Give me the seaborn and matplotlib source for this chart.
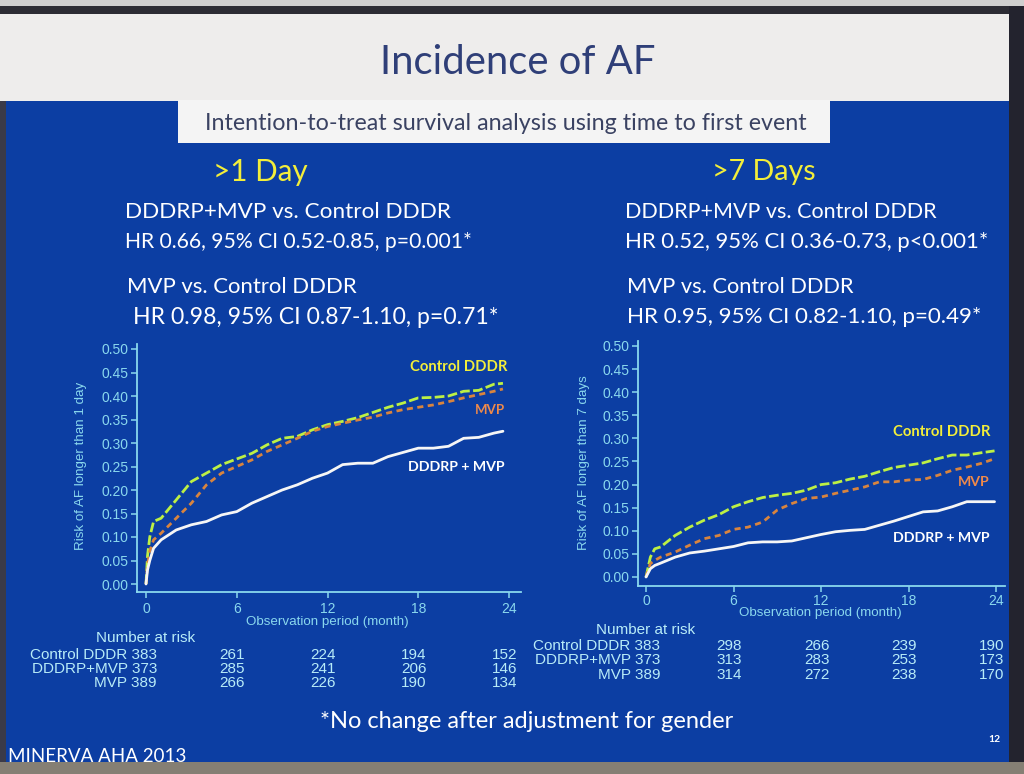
import numpy as np
import pandas as pd
import matplotlib
matplotlib.use("Agg")
import matplotlib.pyplot as plt
import matplotlib.transforms as mtransforms
from matplotlib.patches import Rectangle
import seaborn as sns

# ---------------- data ----------------
groups = ["Control DDDR", "MVP", "DDDRP + MVP"]

t_1d = [0, 0.1, 0.25, 0.5, 1] + list(range(2, 24)) + [23.6]
ctrl_1d = [0, 0.06, 0.10, 0.133, 0.14,
           0.179, 0.218, 0.236, 0.254, 0.266, 0.278, 0.296, 0.31, 0.314, 0.328, 0.339,
           0.346, 0.354, 0.365, 0.376, 0.385, 0.396, 0.397, 0.40, 0.41, 0.412, 0.425, 0.427]
mvp_1d = [0, 0.04, 0.07, 0.094, 0.108,
          0.14, 0.172, 0.211, 0.236, 0.25, 0.264, 0.282, 0.296, 0.31, 0.325, 0.335,
          0.342, 0.349, 0.355, 0.364, 0.371, 0.376, 0.381, 0.388, 0.396, 0.403, 0.41, 0.415]
dddrp_1d = [0, 0.03, 0.05, 0.076, 0.094,
            0.115, 0.126, 0.133, 0.147, 0.154, 0.172, 0.186, 0.20, 0.211, 0.225, 0.236,
            0.254, 0.257, 0.257, 0.271, 0.28, 0.289, 0.289, 0.293, 0.31, 0.312, 0.321, 0.325]

t_7d = [0, 0.3, 0.6, 1] + list(range(2, 24)) + [23.9]
ctrl_7d = [0, 0.043, 0.061, 0.065,
           0.09, 0.108, 0.123, 0.135, 0.152, 0.163, 0.172, 0.177, 0.181, 0.188, 0.20,
           0.204, 0.212, 0.218, 0.228, 0.237, 0.242, 0.247, 0.256, 0.264, 0.264, 0.269, 0.273]
mvp_7d = [0, 0.029, 0.036, 0.043,
          0.054, 0.069, 0.083, 0.09, 0.103, 0.108, 0.119, 0.145, 0.159, 0.17, 0.173,
          0.181, 0.188, 0.195, 0.206, 0.206, 0.21, 0.211, 0.22, 0.231, 0.238, 0.246, 0.256]
dddrp_7d = [0, 0.018, 0.025, 0.03,
            0.043, 0.052, 0.056, 0.061, 0.066, 0.074, 0.076, 0.076, 0.078, 0.085, 0.092,
            0.098, 0.101, 0.103, 0.112, 0.121, 0.131, 0.141, 0.143, 0.152, 0.163, 0.163, 0.163]

risk_months = [6, 12, 18, 24]
risk_labels = ["Control DDDR 383", "DDDRP+MVP 373", "MVP 389"]
risk_1d = [[261, 224, 194, 152], [285, 241, 206, 146], [266, 226, 190, 134]]
risk_7d = [[298, 266, 239, 190], [313, 283, 253, 173], [314, 272, 238, 170]]

xticks = [0, 6, 12, 18, 24]
yticks = [0.00, 0.05, 0.10, 0.15, 0.20, 0.25, 0.30, 0.35, 0.40, 0.45, 0.50]

# ---------------- style ----------------
W, H = 1024, 774
BLUE = "#0c3ea3"
CYAN = "#8ad8ee"
TABLE = "#b8ecf8"
YELLOW = "#f3ee3a"
palette = {"Control DDDR": "#bdf044", "MVP": "#d9843e", "DDDRP + MVP": "#f6f6f6"}
dashes = {"Control DDDR": (3.5, 1.2), "MVP": (2.2, 1.6), "DDDRP + MVP": ""}

sns.set_theme(style="ticks")
plt.rcParams["font.family"] = ["Liberation Sans", "DejaVu Sans"]

fig = plt.figure(figsize=(W / 100, H / 100), dpi=100)
fig.patch.set_facecolor(BLUE)
renderer = fig.canvas.get_renderer()


def rect(x0, y0, x1, y1, color, z=0):
    fig.add_artist(Rectangle((x0 / W, 1 - y1 / H), (x1 - x0) / W, (y1 - y0) / H,
                             transform=fig.transFigure, facecolor=color,
                             edgecolor="none", zorder=z))


def ftext(x0, x1, y, s, color, family="Lato", weight="normal"):
    t = fig.text(x0 / W, 1 - y / H, s, ha="left", va="center", color=color,
                 family=family, weight=weight, fontsize=12)
    w = t.get_window_extent(renderer).width
    t.set_fontsize(12 * (x1 - x0) / w)
    return t


# slide frame
rect(0, 0, W, 6, "#cfcfcf")
rect(0, 6, W, 14, "#2c2c34")
rect(0, 14, 1009, 101, "#eeedec")
rect(1009, 6, W, H, "#23232e")
rect(0, 101, 6, H, "#3a3a48")
rect(178, 100, 830, 143, "#f4f4f4")
rect(0, 762, W, H, "#857f74")

ftext(380, 655, 63, "Incidence of AF", "#2f3f78")
ftext(205, 802, 124, "Intention-to-treat survival analysis using time to first event", "#3a4262")

ftext(213, 307, 172, ">1 Day", YELLOW)
ftext(712, 815, 172, ">7 Days", YELLOW)

ftext(125, 448, 212, "DDDRP+MVP vs. Control DDDR", "white")
ftext(125, 471, 242, "HR 0.66, 95% CI 0.52-0.85, p=0.001*", "white")
ftext(127, 356, 287, "MVP vs. Control DDDR", "white")
ftext(133, 497, 317, "HR 0.98, 95% CI 0.87-1.10, p=0.71*", "white")

ftext(625, 935, 212, "DDDRP+MVP vs. Control DDDR", "white")
ftext(625, 988, 242, "HR 0.52, 95% CI 0.36-0.73, p<0.001*", "white")
ftext(627, 853, 287, "MVP vs. Control DDDR", "white")
ftext(627, 980, 317, "HR 0.95, 95% CI 0.82-1.10, p=0.49*", "white")

ftext(320, 733, 721, "*No change after adjustment for gender", "white")
ftext(8, 185, 757, "MINERVA AHA 2013", "white")
ftext(988, 1000, 740, "12", "white", weight="bold")


def make_long(t, c, m, d):
    return pd.concat([
        pd.DataFrame({"month": t, "risk": c, "group": groups[0]}),
        pd.DataFrame({"month": t, "risk": m, "group": groups[1]}),
        pd.DataFrame({"month": t, "risk": d, "group": groups[2]}),
    ], ignore_index=True)


def panel(px, py, xlim, ylim, df, ylabel, ylab_xy, xlab_xy, xpad, labels, table):
    x0, x1 = px
    y0, y1 = py  # pixel bottom, top
    ax = fig.add_axes([x0 / W, 1 - y0 / H, (x1 - x0) / W, (y0 - y1) / H])
    ax.set_facecolor("none")
    ax.patch.set_alpha(0)
    sns.lineplot(data=df, x="month", y="risk", hue="group", style="group",
                 palette=palette, dashes=dashes, hue_order=groups, style_order=groups,
                 estimator=None, sort=False, linewidth=2.0, legend=False, ax=ax)
    ax.set_xlim(*xlim)
    ax.set_ylim(*ylim)
    ax.set_xticks(xticks)
    ax.set_yticks(yticks)
    ax.set_yticklabels([f"{v:.2f}" for v in yticks])
    for s in ["top", "right"]:
        ax.spines[s].set_visible(False)
    for s in ["left", "bottom"]:
        ax.spines[s].set_color(CYAN)
        ax.spines[s].set_linewidth(1.3)
    ax.tick_params(colors=CYAN, labelcolor=CYAN, labelsize=10, length=4, width=1.1)
    ax.tick_params(axis="x", pad=xpad)
    ax.tick_params(axis="y", pad=2)
    ax.set_ylabel(ylabel, color=CYAN, fontsize=9.6)
    ax.yaxis.set_label_coords(ylab_xy[0] / W, 1 - ylab_xy[1] / H, transform=fig.transFigure)
    ax.set_xlabel("Observation period (month)", color=CYAN, fontsize=9.6)
    ax.xaxis.set_label_coords(xlab_xy[0] / W, 1 - xlab_xy[1] / H, transform=fig.transFigure)
    # curve labels
    for (lx0, lx1, ly, s, col) in labels:
        ftext(lx0, lx1, ly, s, col, weight="bold")
    # number at risk
    nar_right, nar_y, lab_right, row_ys = table["geom"]
    fig.text(nar_right / W, 1 - nar_y / H, "Number at risk", ha="right", va="center",
             color=TABLE, fontsize=11)
    tr = mtransforms.blended_transform_factory(ax.transData, fig.transFigure)
    for lab, row, ry in zip(risk_labels, table["values"], row_ys):
        fig.text(lab_right / W, 1 - ry / H, lab, ha="right", va="center",
                 color=TABLE, fontsize=11)
        for m, v in zip(risk_months, row):
            ax.text(m - 0.3, 1 - ry / H, str(v), transform=tr, ha="center", va="center",
                    color=TABLE, fontsize=11, clip_on=False)
    return ax


# left panel: data 0 at px 146, 24 at px 509 ; y 0 at 584, 0.5 at 349
sx = (509 - 146) / 24
sy = (584 - 349) / 0.5
xl = (-0.6, 24.8)
yl = (-0.018, 0.51)
panel((146 + xl[0] * sx, 146 + xl[1] * sx), (584 - yl[0] * sy, 584 - yl[1] * sy), xl, yl,
      make_long(t_1d, ctrl_1d, mvp_1d, dddrp_1d), "Risk of AF longer than 1 day",
      (87, 466), (327, 616), 3,
      [(410, 507, 367, "Control DDDR", YELLOW), (475, 505, 410, "MVP", "#f08a4a"),
       (408, 505, 467, "DDDRP + MVP", "white")],
      {"geom": (195, 638, 157, (655, 669, 683)), "values": risk_1d})

# right panel: data 0 at px 646, 24 at px 996 ; y 0 at 577, 0.5 at 346
sx = (996 - 646) / 24
sy = (577 - 346) / 0.5
xl = (-0.55, 24.6)
yl = (-0.0195, 0.51)
panel((646 + xl[0] * sx, 646 + xl[1] * sx), (577 - yl[0] * sy, 577 - yl[1] * sy), xl, yl,
      make_long(t_7d, ctrl_7d, mvp_7d, dddrp_7d), "Risk of AF longer than 7 days",
      (590, 463), (820, 607), 2,
      [(893, 990, 432, "Control DDDR", YELLOW), (958, 990, 482, "MVP", "#f08a4a"),
       (893, 990, 538, "DDDRP + MVP", "white")],
      {"geom": (695, 630, 660, (646, 660, 675)), "values": risk_7d})

fig.savefig("out.png", dpi=100, facecolor=fig.get_facecolor())
